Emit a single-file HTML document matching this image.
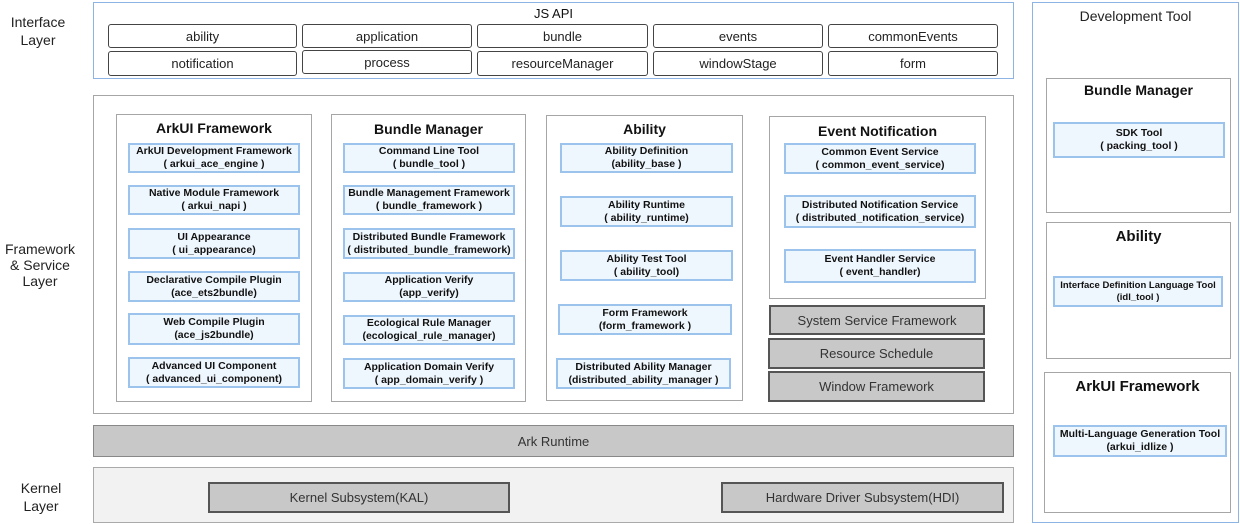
<!DOCTYPE html>
<html><head><meta charset="utf-8"><style>
*{box-sizing:border-box;margin:0;padding:0}
body{width:1240px;height:524px;background:#fff;position:relative;font-family:"Liberation Sans",Arial,sans-serif;color:#111;overflow:hidden}
.a{position:absolute}
.lbl{position:absolute;text-align:center;font-size:14px;line-height:18px;color:#222}
.blue{border:1.5px solid #8db4e2}
.gray{border:1.5px solid #a6a6a6}
.btn{position:absolute;border:1.5px solid #444;border-radius:3px;font-size:13px;display:flex;align-items:center;justify-content:center;color:#222}
.col{position:absolute;border:1.5px solid #a6a6a6;background:#fff}
.ttl{position:absolute;left:0;right:0;text-align:center;font-weight:bold;font-size:14px}
.ib{position:absolute;border:2px solid #9cc3ec;background:#eff7fe;font-size:10.5px;font-weight:bold;line-height:13px;text-align:center;display:flex;flex-direction:column;justify-content:center;color:#111}
.gb{position:absolute;background:#c8c8c8;border:2px solid #555;font-size:13px;display:flex;align-items:center;justify-content:center;color:#333}
</style></head><body>
<div class="lbl" style="left:0;top:13px;width:76px">Interface<br>Layer</div>
<div class="lbl" style="left:0;top:241px;width:80px;line-height:16px">Framework<br>&amp; Service<br>Layer</div>
<div class="lbl" style="left:0;top:479px;width:82px">Kernel<br>Layer</div>

<div class="a blue" style="left:93px;top:2px;width:921px;height:77px"></div>
<div class="a" style="left:93px;top:6px;width:921px;text-align:center;font-size:13px">JS API</div>
<div class="btn" style="left:108px;top:24px;width:189px;height:24px">ability</div>
<div class="btn" style="left:302px;top:24px;width:170px;height:24px">application</div>
<div class="btn" style="left:477px;top:24px;width:171px;height:24px">bundle</div>
<div class="btn" style="left:653px;top:24px;width:170px;height:24px">events</div>
<div class="btn" style="left:828px;top:24px;width:170px;height:24px">commonEvents</div>
<div class="btn" style="left:108px;top:51px;width:189px;height:25px">notification</div>
<div class="btn" style="left:302px;top:50px;width:170px;height:24px">process</div>
<div class="btn" style="left:477px;top:51px;width:171px;height:25px">resourceManager</div>
<div class="btn" style="left:653px;top:51px;width:170px;height:25px">windowStage</div>
<div class="btn" style="left:828px;top:51px;width:170px;height:25px">form</div>

<div class="a gray" style="left:93px;top:95px;width:921px;height:319px"></div>

<div class="col" style="left:116px;top:114px;width:196px;height:288px"><div class="ttl" style="top:5px">ArkUI Framework</div></div>
<div class="ib" style="left:128px;top:143px;width:172px;height:30px">ArkUI Development Framework<span>( arkui_ace_engine )</span></div>
<div class="ib" style="left:128px;top:185px;width:172px;height:30px">Native Module Framework<span>( arkui_napi )</span></div>
<div class="ib" style="left:128px;top:228px;width:172px;height:31px">UI Appearance<span>( ui_appearance)</span></div>
<div class="ib" style="left:128px;top:271px;width:172px;height:31px">Declarative Compile Plugin<span>(ace_ets2bundle)</span></div>
<div class="ib" style="left:128px;top:313px;width:172px;height:32px">Web Compile Plugin<span>(ace_js2bundle)</span></div>
<div class="ib" style="left:128px;top:357px;width:172px;height:31px">Advanced UI Component<span>( advanced_ui_component)</span></div>

<div class="col" style="left:331px;top:114px;width:195px;height:288px"><div class="ttl" style="top:6px">Bundle Manager</div></div>
<div class="ib" style="left:343px;top:143px;width:172px;height:30px">Command Line Tool<span>( bundle_tool )</span></div>
<div class="ib" style="left:343px;top:185px;width:172px;height:30px">Bundle Management Framework<span>( bundle_framework )</span></div>
<div class="ib" style="left:343px;top:228px;width:172px;height:31px">Distributed Bundle Framework<span>( distributed_bundle_framework)</span></div>
<div class="ib" style="left:343px;top:272px;width:172px;height:30px">Application Verify<span>(app_verify)</span></div>
<div class="ib" style="left:343px;top:315px;width:172px;height:30px">Ecological Rule Manager<span>(ecological_rule_manager)</span></div>
<div class="ib" style="left:343px;top:358px;width:172px;height:31px">Application Domain Verify<span>( app_domain_verify )</span></div>

<div class="col" style="left:546px;top:115px;width:197px;height:286px"><div class="ttl" style="top:5px">Ability</div></div>
<div class="ib" style="left:560px;top:143px;width:173px;height:30px">Ability Definition<span>(ability_base )</span></div>
<div class="ib" style="left:560px;top:196px;width:173px;height:31px">Ability Runtime<span>( ability_runtime)</span></div>
<div class="ib" style="left:560px;top:250px;width:173px;height:31px">Ability Test Tool<span>( ability_tool)</span></div>
<div class="ib" style="left:558px;top:304px;width:174px;height:31px">Form Framework<span>(form_framework )</span></div>
<div class="ib" style="left:556px;top:358px;width:175px;height:31px">Distributed Ability Manager<span>(distributed_ability_manager )</span></div>

<div class="col" style="left:769px;top:116px;width:217px;height:183px"><div class="ttl" style="top:6px">Event Notification</div></div>
<div class="ib" style="left:784px;top:143px;width:192px;height:31px">Common Event Service<span>( common_event_service)</span></div>
<div class="ib" style="left:784px;top:195px;width:192px;height:33px">Distributed Notification Service<span>( distributed_notification_service)</span></div>
<div class="ib" style="left:784px;top:249px;width:192px;height:34px">Event Handler Service<span>( event_handler)</span></div>
<div class="gb" style="left:769px;top:305px;width:216px;height:30px">System Service Framework</div>
<div class="gb" style="left:768px;top:338px;width:217px;height:31px">Resource Schedule</div>
<div class="gb" style="left:768px;top:371px;width:217px;height:31px">Window Framework</div>

<div class="a" style="left:93px;top:425px;width:921px;height:32px;background:#c8c8c8;border:1.5px solid #888;font-size:13px;display:flex;align-items:center;justify-content:center;color:#333">Ark Runtime</div>

<div class="a" style="left:93px;top:467px;width:921px;height:56px;background:#f2f2f2;border:1.5px solid #aaa"></div>
<div class="gb" style="left:208px;top:482px;width:302px;height:31px">Kernel Subsystem(KAL)</div>
<div class="gb" style="left:721px;top:482px;width:283px;height:31px">Hardware Driver Subsystem(HDI)</div>

<div class="a blue" style="left:1032px;top:2px;width:207px;height:521px"></div>
<div class="a" style="left:1032px;top:8px;width:207px;text-align:center;font-size:14px;color:#222">Development Tool</div>
<div class="col" style="left:1046px;top:78px;width:185px;height:135px"><div class="ttl" style="top:3px">Bundle Manager</div></div>
<div class="ib" style="left:1053px;top:122px;width:172px;height:36px">SDK Tool<span>( packing_tool )</span></div>
<div class="col" style="left:1046px;top:222px;width:185px;height:137px"><div class="ttl" style="top:5px;font-size:15px">Ability</div></div>
<div class="ib" style="left:1053px;top:276px;width:170px;height:31px;font-size:9.5px;line-height:12px">Interface Definition Language Tool<span>(idl_tool )</span></div>
<div class="col" style="left:1044px;top:372px;width:187px;height:141px"><div class="ttl" style="top:5px;font-size:15px">ArkUI Framework</div></div>
<div class="ib" style="left:1053px;top:425px;width:174px;height:32px">Multi-Language Generation Tool<span>(arkui_idlize )</span></div>
</body></html>
